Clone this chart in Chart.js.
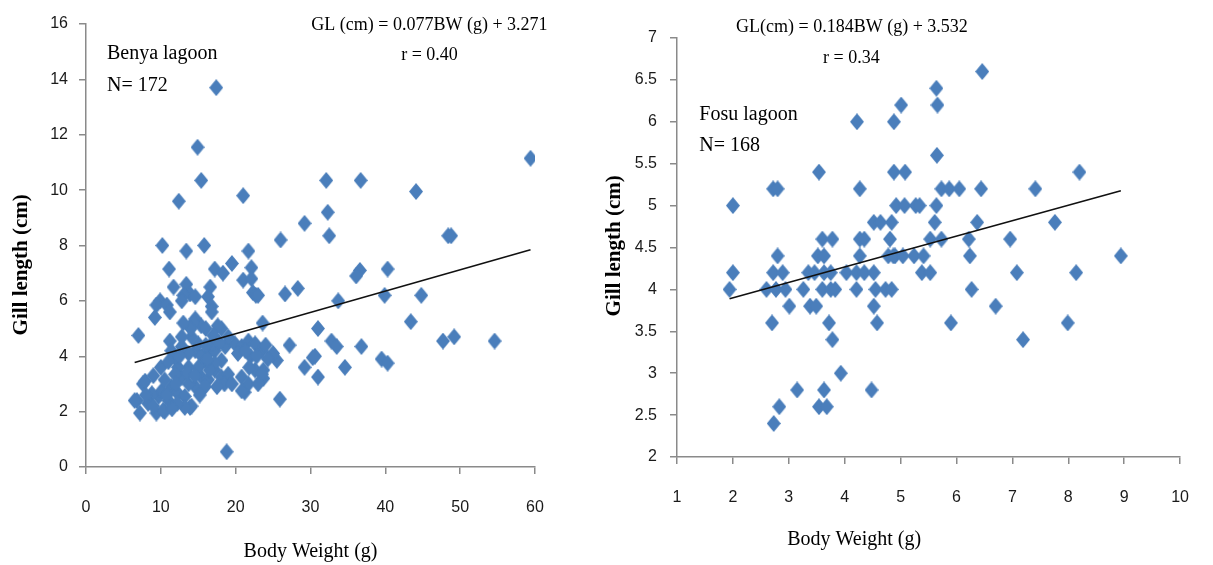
<!DOCTYPE html>
<html>
<head>
<meta charset="utf-8">
<script src="https://cdn.jsdelivr.net/npm/chart.js@4.4.1/dist/chart.umd.min.js"></script>
<style>
  body { margin: 0; background: #fff; width: 1213px; height: 565px; overflow: hidden; position: relative; }
  .wrap { position: absolute; top: 0; height: 565px; }
  #wrapL { left: 0; width: 600px; }
  #wrapR { left: 600px; width: 613px; }
</style>
</head>
<body>
<div class="wrap" id="wrapL"><canvas id="benya" width="600" height="565"></canvas></div>
<div class="wrap" id="wrapR"><canvas id="fosu" width="613" height="565"></canvas></div>
<script>
// ── DATA ────────────────────────────────────────────────────────────────────
// [body weight (g), gill length (cm)]
const benyaSample = [
  [17.4,13.7],[14.9,11.55],[15.4,10.35],[12.4,9.6],[21.0,9.8],[32.1,10.35],[36.7,10.35],[59.4,11.15],
  [44.1,9.95],[32.3,9.2],[29.2,8.8],[32.5,8.35],[26.0,8.2],[48.4,8.35],[48.8,8.35],
  [10.2,8.0],[15.8,8.0],[13.4,7.8],[21.7,7.8],[11.1,7.15],[17.2,7.15],[18.3,7.0],[19.5,7.35],
  [22.1,7.2],[36.6,7.1],[36.1,6.9],[40.3,7.15],
  [21.0,6.75],[22.1,6.8],[22.3,6.3],[22.7,6.2],[23.0,6.2],[26.6,6.25],[28.3,6.45],[33.7,6.0],
  [39.9,6.2],[44.8,6.2],[43.4,5.25],
  [11.7,6.5],[13.4,6.6],[13.9,6.25],[13.0,6.2],[14.6,6.15],[16.6,6.5],[16.3,6.15],[16.8,5.8],
  [9.9,6.0],[9.4,5.85],[10.8,5.85],[12.8,6.0],[11.2,5.6],[9.2,5.4],[14.6,5.35],[15.4,5.1],
  [14.3,5.2],[16.8,5.6],[18.1,5.0],[17.6,5.1],[23.6,5.2],
  [7.0,4.75],[11.2,4.55],[31.0,5.0],[32.8,4.55],[33.5,4.35],[27.2,4.4],[36.8,4.35],[47.7,4.55],
  [49.2,4.7],[54.6,4.55],
  [30.3,3.95],[29.2,3.6],[31.0,3.25],[34.6,3.6],[39.5,3.9],[40.3,3.75],[25.9,2.45],[25.5,3.85],
  [25.0,4.1],[23.7,3.2],[23.7,3.5],[21.2,2.7],[30.6,4.0],
  [18.8,0.55],[7.2,1.95],[6.8,2.4],[7.6,3.0],[9.4,1.95],[10.5,2.0],[13.9,2.15],
  [6.5,2.4],[7.9,3.1],[10.3,2.05],[11.0,2.4],[9.7,2.55],[10.1,2.75],[11.4,2.9],[12.3,2.65],
  [13.2,2.55],[14.1,2.2],[12.8,3.25],[13.7,3.6],[12.3,3.6],[11.9,3.35],[14.6,2.9],[15.4,3.25],
  [16.3,3.15],[15.9,2.9],[17.2,3.5],[18.1,3.25],[19.0,3.35],[20.8,3.25],[21.7,3.0],[20.8,2.75],
  [22.6,3.5],[23.5,3.35],
  [14.6,4.2],[13.7,4.1],[12.8,4.35],[11.9,3.95],[11.4,4.2],[16.3,4.1],[15.9,3.85],[17.2,4.2],
  [18.6,4.35],[19.9,4.45],[20.8,4.35],[21.7,4.55],[22.6,4.45],[23.5,4.2],[18.1,3.85],[17.2,3.75],
  [8.8,2.65],[8.3,2.3],[10.5,3.15],[13.7,3.0],[15.0,3.6],[15.0,4.45],[14.1,4.7],[12.8,4.7],
  [16.8,4.45],[19.0,4.7],[13.2,2.15],[22.0,4.0],[24.3,3.9],[10.8,2.6],[12.0,3.0],[16.5,3.5],
  [18.5,3.0],[17.0,4.75],[16.0,5.0],[20.3,4.1],[21.3,4.2],[24.0,4.4],
  [9.0,3.3],[10.0,3.6],[11.0,3.8],[12.5,4.0],[13.5,3.4],[14.5,3.3],[15.5,4.0],[16.0,4.4],
  [17.8,4.5],[19.5,3.0],[21.8,3.6],[22.8,4.0],[23.0,3.0],[14.0,5.0],[13.0,5.2],[12.2,2.3],
  [11.5,2.1],[9.0,2.2],[8.0,2.6],[15.2,2.6],[17.5,2.9],[16.2,3.9]
];

const fosuSample = [
  [1.94,4.0],[2.0,4.2],[2.0,5.0],[2.72,5.2],[2.8,5.2],[2.8,4.4],[2.72,4.2],[2.89,4.2],
  [2.6,4.0],[2.77,4.0],[2.94,4.0],[2.7,3.6],[2.73,2.4],[2.83,2.6],
  [3.01,3.8],[3.15,2.8],[3.26,4.0],[3.38,3.8],[3.49,3.8],[3.35,4.2],[3.46,4.2],[3.63,4.2],
  [3.75,4.2],[3.52,4.4],[3.63,4.4],[3.54,5.4],[3.6,4.6],[3.78,4.6],[3.6,4.0],[3.75,4.0],
  [3.83,4.0],[3.72,3.6],[3.78,3.4],[3.93,3.0],[3.63,2.8],[3.54,2.6],[3.68,2.6],
  [4.03,4.2],[4.21,4.2],[4.35,4.2],[4.52,4.2],[4.21,4.0],[4.22,6.0],[4.27,5.2],[4.27,4.6],
  [4.27,4.4],[4.35,4.6],[4.48,2.8],[4.52,3.8],[4.58,3.6],[4.55,4.0],[4.73,4.0],
  [4.52,4.8],[4.64,4.8],[4.84,4.8],[4.81,4.6],[4.78,4.4],[4.9,4.4],
  [4.88,6.0],[5.01,6.2],[4.88,5.4],[5.08,5.4],[4.92,5.0],[5.07,5.0],[5.27,5.0],[5.34,5.0],
  [4.87,4.4],[5.04,4.4],[5.24,4.4],[5.41,4.4],[5.38,4.2],[5.53,4.2],[4.84,4.0],
  [5.64,6.4],[5.66,6.2],[5.65,5.6],[5.64,5.0],[5.61,4.8],[5.53,4.6],[5.73,4.6],
  [5.73,5.2],[5.87,5.2],[6.05,5.2],[5.9,3.6],
  [6.22,4.6],[6.24,4.4],[6.27,4.0],[6.37,4.8],[6.44,5.2],[6.46,6.6],[6.7,3.8],
  [6.96,4.6],[7.08,4.2],[7.19,3.4],[7.41,5.2],[7.76,4.8],[7.99,3.6],[8.14,4.2],[8.2,5.4],[8.94,4.4]
];

// fitted lines printed on the figure: GL = slope * BW + intercept
const benyaFit = { slope: 0.077, intercept: 3.271, r: '0.40', n: 172 };
const fosuFit  = { slope: 0.184, intercept: 3.532, r: '0.34', n: 168 };

const benyaXTicks = { min: 0, max: 60, step: 10 };
const benyaYTicks = { min: 0, max: 16, step: 2 };
const fosuXTicks  = { min: 1, max: 10, step: 1 };
const fosuYTicks  = { min: 2, max: 7, step: 0.5 };

// ── STYLE ───────────────────────────────────────────────────────────────────
const POINT_BLUE = '#4a7ebb';
const AXIS_GREY  = '#8a8a8a';
const TICK_FONT  = { family: "'Liberation Sans Narrow', 'Liberation Sans', sans-serif", size: 16 };
const SERIF      = "'Liberation Serif', 'Times New Roman', serif";

function diamond(w, h, color) {
  const c = document.createElement('canvas');
  c.width = w; c.height = h;
  const g = c.getContext('2d');
  g.fillStyle = color;
  g.beginPath();
  g.moveTo(w / 2, 0); g.lineTo(w, h / 2); g.lineTo(w / 2, h); g.lineTo(0, h / 2);
  g.closePath();
  g.fill();
  return c;
}
const marker = diamond(14, 17, POINT_BLUE);

// free text placed in data units through the chart's own scales
const noteText = {
  id: 'noteText',
  afterDraw(chart, args, opts) {
    const { ctx, scales } = chart;
    ctx.save();
    ctx.fillStyle = '#000';
    ctx.textBaseline = 'middle';
    (opts.items || []).forEach(it => {
      const px = scales.x.getPixelForValue(it.x);
      const py = scales.y.getPixelForValue(it.y);
      ctx.save();
      ctx.font = it.font;
      ctx.textAlign = it.align || 'left';
      ctx.translate(px, py);
      if (it.rotate) ctx.rotate(it.rotate);
      ctx.fillText(it.text, 0, 0);
      ctx.restore();
    });
    ctx.restore();
  }
};

function fitLine(sample, fit) {
  const xs = sample.map(p => p[0]);
  const lo = Math.min(...xs), hi = Math.max(...xs);
  return [lo, hi].map(x => ({ x, y: fit.slope * x + fit.intercept }));
}

function axis(t, extra) {
  return Object.assign({
    type: 'linear',
    min: t.min, max: t.max,
    border: { display: true, color: AXIS_GREY, width: 1.5 },
    grid: { display: true, drawOnChartArea: false, tickLength: 7, color: AXIS_GREY, lineWidth: 1.5 }
  }, extra);
}

function makeChart(id, cfg) {
  return new Chart(document.getElementById(id), {
    data: {
      datasets: [
        {
          type: 'scatter',
          data: cfg.sample.map(p => ({ x: p[0], y: p[1] })),
          pointStyle: marker,
          pointRadius: 7,
          order: 2
        },
        {
          type: 'line',
          data: fitLine(cfg.sample, cfg.fit),
          borderColor: '#111',
          borderWidth: 1.6,
          pointRadius: 0,
          tension: 0,
          order: 1
        }
      ]
    },
    options: {
      responsive: false,
      animation: false,
      devicePixelRatio: 1,
      layout: { padding: cfg.padding },
      plugins: {
        legend: { display: false },
        tooltip: { enabled: false },
        noteText: { items: cfg.notes }
      },
      scales: {
        x: axis(cfg.xTicks, {
          afterFit: s => { s.height = cfg.xAxisHeight; },
          ticks: { stepSize: cfg.xTicks.step, font: TICK_FONT, color: '#1a1a1a', padding: 24, autoSkip: false, maxRotation: 0 },
          title: cfg.xTitle
        }),
        y: axis(cfg.yTicks, {
          afterFit: s => { s.width = cfg.yAxisWidth; },
          ticks: { stepSize: cfg.yTicks.step, font: TICK_FONT, color: '#1a1a1a', padding: cfg.yTickPad, autoSkip: false,
                   callback: v => String(v) }
        })
      }
    },
    plugins: [noteText]
  });
}

const Y_TITLE_FONT = `bold 21px ${SERIF}`;
const UP = -Math.PI / 2;

makeChart('benya', {
  sample: benyaSample,
  fit: benyaFit,
  xTicks: benyaXTicks,
  yTicks: benyaYTicks,
  padding: { top: 24, right: 65, left: 0, bottom: 0 },
  xAxisHeight: 98,
  yAxisWidth: 86,
  yTickPad: 11,
  xTitle: { display: true, text: 'Body Weight (g)', color: '#000', font: { family: SERIF, size: 20 }, padding: { top: 0, bottom: 1 } },
  notes: [
    { text: 'Gill length (cm)', x: -8.6, y: 7.3, align: 'center', rotate: UP, font: Y_TITLE_FONT },
    { text: 'Benya lagoon', x: 2.8, y: 14.93, font: `20px ${SERIF}` },
    { text: `N= ${benyaFit.n}`, x: 2.8, y: 13.77, font: `20px ${SERIF}` },
    { text: `GL (cm) = ${benyaFit.slope}BW (g) + ${benyaFit.intercept}`, x: 45.9, y: 15.95, align: 'center', font: `18px ${SERIF}` },
    { text: `r = ${benyaFit.r}`, x: 45.9, y: 14.86, align: 'center', font: `18px ${SERIF}` }
  ]
});

makeChart('fosu', {
  sample: fosuSample,
  fit: fosuFit,
  xTicks: fosuXTicks,
  yTicks: fosuYTicks,
  padding: { top: 38, right: 13, left: 0, bottom: 0 },
  xAxisHeight: 108,
  yAxisWidth: 77,
  yTickPad: 13,
  xTitle: { display: false },
  notes: [
    { text: 'Gill length (cm)', x: -0.12, y: 4.52, align: 'center', rotate: UP, font: Y_TITLE_FONT },
    { text: 'Fosu lagoon', x: 1.4, y: 6.09, font: `20px ${SERIF}` },
    { text: `N= ${fosuFit.n}`, x: 1.4, y: 5.71, font: `20px ${SERIF}` },
    { text: `GL(cm) = ${fosuFit.slope}BW (g) + ${fosuFit.intercept}`, x: 4.13, y: 7.13, align: 'center', font: `18px ${SERIF}` },
    { text: `r = ${fosuFit.r}`, x: 4.12, y: 6.76, align: 'center', font: `18px ${SERIF}` },
    { text: 'Body Weight (g)', x: 4.17, y: 1.01, align: 'center', font: `20px ${SERIF}` }
  ]
});
</script>
</body>
</html>
